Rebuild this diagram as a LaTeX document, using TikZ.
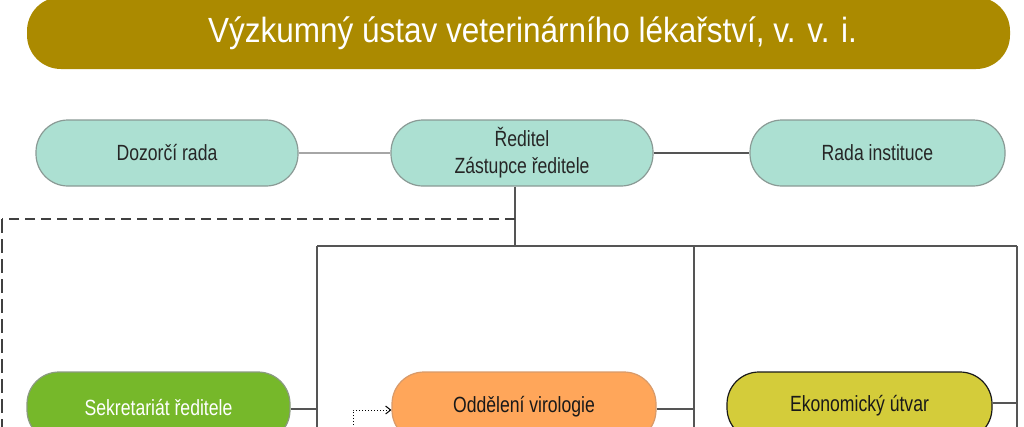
\documentclass[tikz,border=0pt]{standalone}
\usepackage{fontspec}
\setmainfont{Liberation Sans}
\newfontfamily\titlefont[FakeStretch=0.9]{Liberation Sans}
\newfontfamily\boxfont[FakeStretch=0.8]{Liberation Sans}
\usetikzlibrary{arrows.meta}
\definecolor{gold}{HTML}{AB8A00}
\definecolor{teal}{HTML}{ACE0D2}
\definecolor{tealborder}{HTML}{8A9A95}
\definecolor{grn}{HTML}{76B82A}
\definecolor{grnborder}{HTML}{8A9A80}
\definecolor{orng}{HTML}{FFA65A}
\definecolor{orngborder}{HTML}{D89A6A}
\definecolor{ylw}{HTML}{D4CC3A}
\definecolor{linec}{HTML}{555555}
\begin{document}
\begin{tikzpicture}[x=1pt,y=-1pt,
  pill/.style={rectangle, rounded corners=32pt, inner sep=0pt, minimum height=66pt,
    line width=1.2pt, align=center, font=\boxfont\fontsize{22}{27}\selectfont},
  topbox/.style={pill, fill=teal, draw=tealborder, text=black!85},
  conn/.style={draw=linec, line width=1.3pt},
  lightconn/.style={draw=black!35, line width=1.2pt},
  dashconn/.style={draw=black!75, line width=1.4pt, dash pattern=on 10pt off 6pt}
]
\useasboundingbox (0,0) rectangle (1024,426);
\clip (0,0) rectangle (1024,426);

% title
\node[rectangle, rounded corners=34pt, fill=gold, minimum width=983pt, minimum height=72pt,
  inner sep=0pt, text=white, font=\titlefont\fontsize{35}{40}\selectfont]
  (title) at (518.5,33) {\hspace*{28pt}Výzkumný ústav veterinárního lékařství, v. v. i.};

% top row
\node[topbox, minimum width=262pt] (doz) at (167,153) {Dozorčí rada};
\node[topbox, minimum width=262pt] (red) at (522,153) {Ředitel\\Zástupce ředitele};
\node[topbox, minimum width=255pt] (rada) at (877.5,153) {Rada instituce};

\draw[lightconn] (doz) -- (red);
\draw[conn] (red) -- (rada);

% bus coordinates
\coordinate (busT) at (515,246);
\coordinate (busL) at (317,246);
\coordinate (busM) at (694,246);
\coordinate (busR) at (1017,246);
\coordinate (busLb) at (317,440);
\coordinate (busMb) at (694,440);
\coordinate (busRb) at (1017,440);
\coordinate (dashT) at (515,219);
\coordinate (dashC) at (2,219);
\coordinate (dashB) at (2,440);
\coordinate (dotB) at (353,440);
\coordinate (dotC) at (353,410);

\draw[conn] (red.south -| busT) -- (busT);
\draw[conn] (busL) -- (busR);
\draw[conn] (busL) -- (busLb);
\draw[conn] (busM) -- (busMb);
\draw[conn] (busR) -- (busRb);
\draw[dashconn] (dashT) -- (dashC);
\draw[dashconn, line width=2.6pt, dash pattern=on 14pt off 6pt] (dashC) -- (dashB);

% bottom row
\node[pill, fill=grn, draw=grnborder, text=white, minimum width=263pt, minimum height=70pt] (sek) at (158.5,407) {Sekretariát ředitele};
\node[pill, fill=orng, draw=orngborder, text=black!90, minimum width=264pt, minimum height=70pt] (odd) at (524,407) {Oddělení virologie};
\node[pill, fill=ylw, draw=black!90, text=black!90, minimum width=265pt, minimum height=68pt] (eko) at (859.5,406) {Ekonomický útvar};

\draw[conn] ([yshift=-2pt]sek.east) -- ([yshift=-2pt]sek.east -| busL);
\draw[conn] ([yshift=-2pt]odd.east) -- ([yshift=-2pt]odd.east -| busM);
\draw[conn] ([yshift=3pt]eko.east) -- ([yshift=3pt]eko.east -| busR);

\draw[black, line width=1pt, dotted, -{Straight Barb[length=5pt,width=8pt]}] (dotB) -- (dotC) -- (dotC -| odd.west);
\end{tikzpicture}
\end{document}
